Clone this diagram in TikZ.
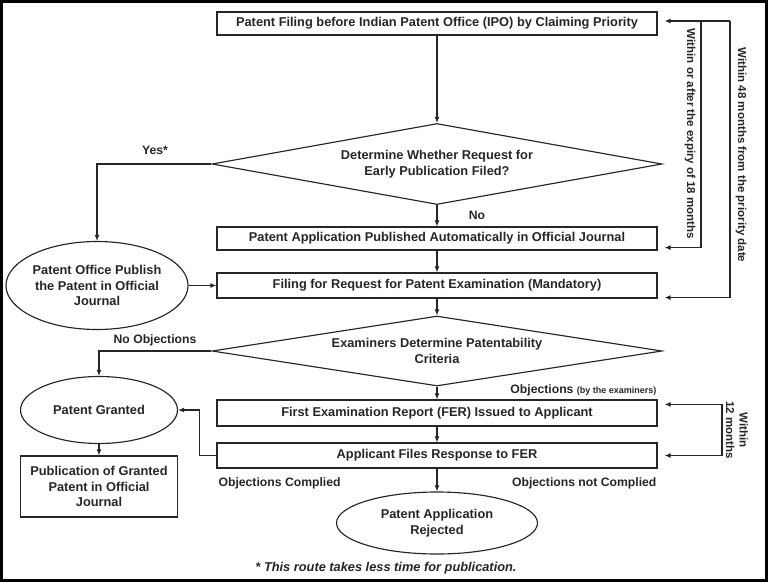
\documentclass[tikz,border=0pt]{standalone}
\usepackage{fontspec}
\setmainfont{Liberation Sans}
\usepackage{tikz}
\usetikzlibrary{arrows.meta,shapes.geometric}

\begin{document}
\begin{tikzpicture}[x=1pt,y=-1pt,color=black!85,line width=1.15pt,
  every node/.style={font=\fontsize{12.8}{15.5}\selectfont\bfseries,align=center,inner sep=0pt},
  box/.style={draw,minimum width=440pt,minimum height=24pt},
  dec/.style={draw,diamond,aspect=6,minimum width=450pt},
  oval/.style={draw,ellipse},
  lbl/.style={font=\fontsize{12.2}{14}\selectfont\bfseries},
  side/.style={font=\fontsize{11.5}{13.5}\selectfont\bfseries,rotate=-90},
  arr/.style={-{Latex[length=6pt,width=5pt]}},
  dbl/.style={{Latex[length=6pt,width=5pt]}-{Latex[length=6pt,width=5pt]}}]
\useasboundingbox (0,0) rectangle (768,582);
\draw[line width=3pt,black] (1.5,1.5) rectangle (766.5,580.5);%
% main column
\node[box,minimum height=23pt] (F) at (437,23.5) {Patent Filing before Indian Patent Office (IPO) by Claiming Priority};
\node[dec,minimum height=81pt] (D1) at (437,164) {Determine Whether Request for\\Early Publication Filed?};
\node[box,minimum height=23pt] (P) at (437,238.5) {Patent Application Published Automatically in Official Journal};
\node[box,minimum height=25pt] (R) at (437,285.5) {Filing for Request for Patent Examination (Mandatory)};
\node[dec,minimum height=70pt] (D2) at (437,351) {Examiners Determine Patentability\\Criteria};
\node[box,minimum height=26pt] (FER) at (437,413) {First Examination Report (FER) Issued to Applicant};
\node[box,minimum height=25pt] (RES) at (437,455.5) {Applicant Files Response to FER};
\node[oval,minimum width=201pt,minimum height=62pt] (X) at (437,523) {Patent Application\\Rejected};
% left column
\node[oval,minimum width=180pt,minimum height=88pt] (PO) at (97,285.5) {Patent Office Publish\\the Patent in Official\\Journal};
\node[oval,minimum width=157pt,minimum height=67pt] (G) at (99,410) {Patent Granted};
\node[draw,minimum width=157pt,minimum height=61pt] (PG) at (99,486.5) {Publication of Granted\\Patent in Official\\Journal};
% labels
\node[lbl] (yes) at (155,150) {Yes*};
\node[lbl] (no) at (477,215) {No};
\node[lbl] (noobj) at (155,340) {No Objections};
\node[lbl,anchor=east] (obj) at (657,390) {Objections {\fontsize{9}{11}\selectfont(by the examiners)}};
\node[lbl,anchor=west] (oc) at (218,483) {Objections Complied};
\node[lbl,anchor=east] (onc) at (657,483) {Objections not Complied};
\node[font=\fontsize{12.8}{15}\selectfont\bfseries\itshape] (note) at (386,568) {* This route takes less time for publication.};
% arrows
\draw[arr] (F) -- (D1);
\draw[arr] (D1) -- (P);
\draw[arr] (P) -- (R);
\draw[arr] (R) -- (D2);
\draw[arr] (D2) -- (FER);
\draw[arr] (FER) -- (RES);
\draw[arr] (RES) -- (X);
\draw[arr] (D1.west) -| (PO.north);
\draw[arr] (PO) -- (R);
\draw[arr] (D2.west) -| (G.north);
\draw[arr] (G) -- (PG);
\draw[arr] (RES.west) -- ++(-17,0) |- (G.east);
% time limits
\coordinate (T18) at (701,21);
\coordinate (T48) at (730,21);
\coordinate (T12) at (722,455.5);
\draw[arr] (T48) -- ([xshift=7pt,yshift=2.5pt]F.east);
\draw[arr] (T18) |- ([xshift=7pt,yshift=3pt]P.south east);
\draw[arr] (T48) |- ([xshift=7pt,yshift=1pt]R.south east);
\draw[dbl] ([xshift=7pt,yshift=-5pt]FER.north east) -| (T12) -- ([xshift=7pt]RES.east);
\node[side] (s18) at (690,134) {Within or after the expiry of 18 months};
\node[side] (s48) at (741,155) {Within 48 months from the priority date};
\node[side] (s12) at (737,430) {Within\\12 months};
\end{tikzpicture}
\end{document}
